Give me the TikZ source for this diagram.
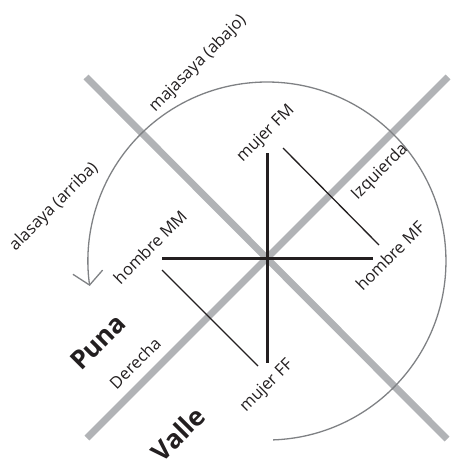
\documentclass[tikz,border=0pt]{standalone}
\usepackage{fontspec}
\setmainfont{Open Sans}
\usetikzlibrary{arrows.meta}
\definecolor{ink}{HTML}{231F20}
\definecolor{axisgrey}{HTML}{B1B3B6}
\definecolor{arcgrey}{HTML}{7F8184}
\begin{document}
\begin{tikzpicture}[x=1pt,y=-1pt,
  lbl/.style={font=\fontsize{16.5}{16.5}\selectfont, text=ink, rotate=45, inner sep=0pt},
  big/.style={font=\fontsize{26}{26}\selectfont\bfseries, text=ink, rotate=45, inner sep=0pt},
  axisline/.style={draw=axisgrey, line width=7pt},
  kin/.style={draw=ink, line width=3pt},
  pair/.style={draw=ink, line width=1.3pt}]
\useasboundingbox (0,0) rectangle (450,460);
% grey axes
\coordinate (nw) at (86,77);
\coordinate (se) at (447,439);
\coordinate (ne) at (448,77);
\coordinate (sw) at (87,438);
\draw[axisline] (nw) -- (se);
\draw[axisline] (ne) -- (sw);
% arc with arrow
\draw[arcgrey, line width=1.3pt, -{Straight Barb[length=13pt,width=30pt]}]
  (273.2,439.9) arc[start angle=88, end angle=-188, radius=179];
% black cross
\coordinate (top) at (267,153);
\coordinate (bot) at (267,363);
\coordinate (lft) at (162,258);
\coordinate (rgt) at (373,258);
\draw[kin] (top) -- (bot);
\draw[kin] (lft) -- (rgt);
% thin lines
\coordinate (a1) at (283,148);
\coordinate (a2) at (379,245);
\coordinate (b1) at (162,270);
\coordinate (b2) at (258,366);
\draw[pair] (a1) -- (a2);
\draw[pair] (b1) -- (b2);
% labels
\node[lbl] (maja) at (198,64) {majasaya (abajo)};
\node[lbl] (alas) at (54,207) {alasaya (arriba)};
\node[lbl] (mfm) at (266,134) {mujer FM};
\node[lbl] (hmm) at (150,247) {hombre MM};
\node[lbl] (izq) at (380,172) {Izquierda};
\node[lbl] (hmf) at (390,256) {hombre MF};
\node[lbl] (mff) at (267,386) {mujer FF};
\node[lbl] (der) at (135,363) {Derecha};
\node[big] (puna) at (98,342) {Puna};
\node[big] (valle) at (178,434) {Valle};
\end{tikzpicture}
\end{document}
